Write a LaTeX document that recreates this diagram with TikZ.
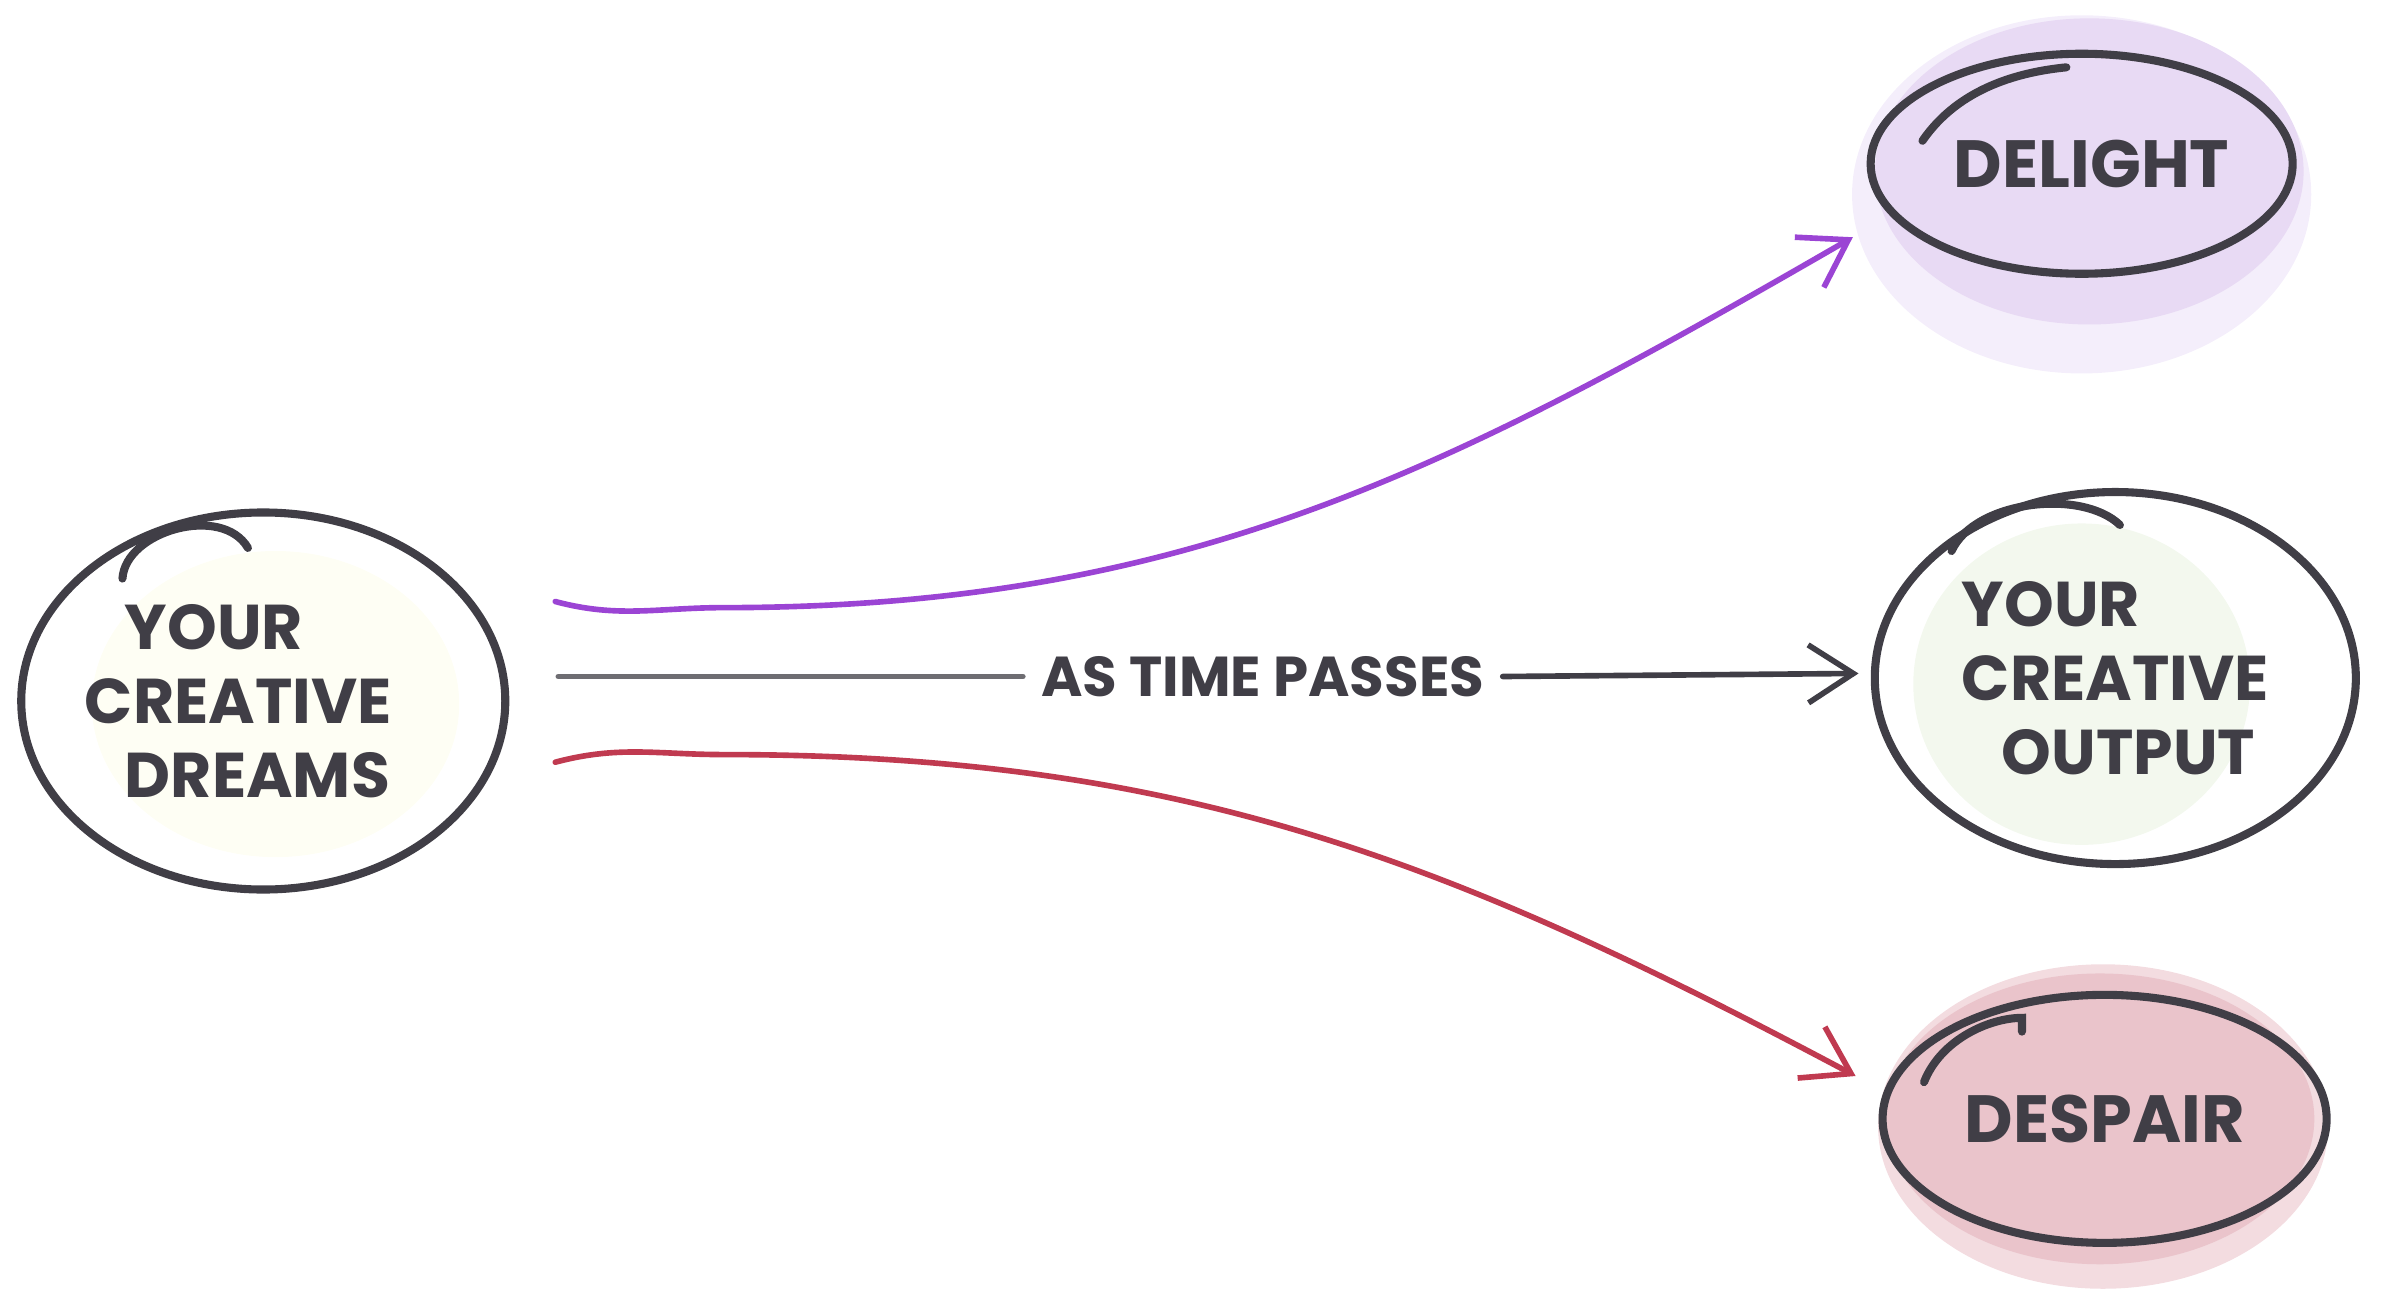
\documentclass[tikz,border=0pt]{standalone}
\usepackage{fontspec}
\setmainfont{Poppins}
\usetikzlibrary{shapes.geometric, arrows.meta, calc}
\definecolor{ink}{HTML}{403E46}
\definecolor{wirepurple}{HTML}{9B44D4}
\definecolor{wirered}{HTML}{C03A50}
\definecolor{wiregray}{HTML}{6E6D72}
\definecolor{dreamwash}{HTML}{FEFEF4}
\definecolor{outputwash}{HTML}{F3F8EE}
\definecolor{delightwash}{HTML}{E8DAF4}
\definecolor{delighthalo}{HTML}{F4EEFB}
\definecolor{despairwash}{HTML}{EAC4CB}
\definecolor{despairhalo}{HTML}{F3DCE0}

\begin{document}
\begin{tikzpicture}[x=0.015306cm, y=0.015306cm,
    bubble/.style={ellipse, draw=ink, line width=2.3pt, inner sep=0pt, text=ink,
        font=\bfseries\fontsize{18}{21}\selectfont},
    flourish/.style={draw=ink, line width=2.3pt, line cap=round},
    wire/.style={line width=1.6pt, line cap=round, line join=round},
    barb/.style={-{Straight Barb[length=0.45cm, width=0.58cm, line width=1.6pt]}}]
    \useasboundingbox (0,0) rectangle (1568,847);
    % washes behind the bubbles
    \fill[dreamwash] (180,387) ellipse [x radius=120, y radius=100];
    \fill[outputwash] (1360,400) ellipse [x radius=110, y radius=105];
    \fill[delighthalo] (1360,720) ellipse [x radius=150, y radius=117];
    \fill[delightwash] (1365,735) ellipse [x radius=140, y radius=100];
    \fill[despairhalo] (1374,111) ellipse [x radius=147, y radius=106];
    \fill[despairwash] (1372,116) ellipse [x radius=140, y radius=95];
    % bubbles
    \node[bubble, minimum width=4.84cm, minimum height=3.77cm, inner xsep=-0.4cm, align=left] (dreams) at (172,389)
        {\hspace{0.4cm}YOUR\\CREATIVE\rule{0.5cm}{0pt}\\\hspace{0.4cm}DREAMS};
    \node[bubble, minimum width=4.22cm, minimum height=2.20cm, font=\bfseries\fontsize{19}{21}\selectfont] (delight) at (1360,740) {\hspace{0.2cm}DELIGHT};
    \node[bubble, minimum width=4.81cm, minimum height=3.72cm, align=left] (output) at (1382,404)
        {YOUR\\CREATIVE\\\hspace{0.4cm}OUTPUT};
    \node[bubble, minimum width=4.44cm, minimum height=2.48cm, font=\bfseries\fontsize{19}{21}\selectfont] (despair) at (1375,116) {DESPAIR};
    \draw[flourish] (80,469) .. controls (82,500) and (145,518) .. (162,489);
    \draw[flourish] (1256,755) .. controls (1280,790) and (1320,800) .. (1350,803);
    \draw[flourish] (1275,487) .. controls (1290,520) and (1360,528) .. (1385,504);
    \draw[flourish] (1257,140) .. controls (1268,168) and (1300,182) .. (1321,182) -- (1321,173);
    \node[text=ink, inner sep=0.18cm, font=\bfseries\fontsize{16}{18}\selectfont] (time) at (825,405) {AS TIME PASSES};
    % connectors
    \draw[wire, barb, wirepurple] ($(dreams.east)+(30,65)$) to[out=-15,in=180] ++(110,-4)
        to[out=0,in=210] ($(delight.west)+(-9,-48)$);
    \draw[wire, wiregray] ($(dreams.east)+(32,16)$) -- (time.west);
    \draw[wire, barb, ink] (time.east) -- ($(output.west)+(-8,3)$);
    \draw[wire, barb, wirered] ($(dreams.east)+(30,-40)$) to[out=15,in=180] ++(110,5)
        to[out=0,in=152] ($(despair.west)+(-15,28)$);
\end{tikzpicture}
\end{document}
